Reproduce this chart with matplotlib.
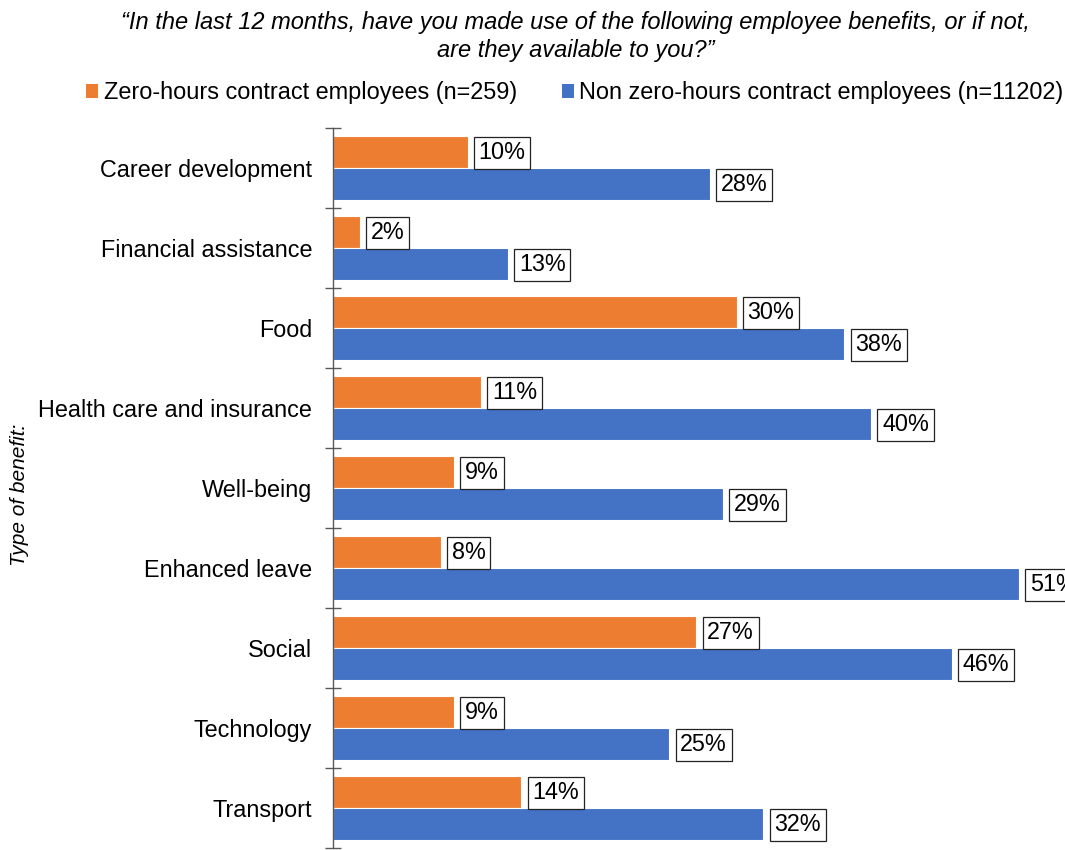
import matplotlib
matplotlib.use("Agg")
import matplotlib.pyplot as plt
import numpy as np
from matplotlib.patches import Patch

plt.rcParams['font.family'] = ['Liberation Sans', 'DejaVu Sans']

categories = ["Career development", "Financial assistance", "Food",
              "Health care and insurance", "Well-being", "Enhanced leave",
              "Social", "Technology", "Transport"]
zero_hours = [10, 2, 30, 11, 9, 8, 27, 9, 14]
non_zero_hours = [28, 13, 38, 40, 29, 51, 46, 25, 32]
series_names = ["Zero-hours contract employees (n=259)",
                "Non zero-hours contract employees (n=11202)"]
colors = ["#ED7D31", "#4472C4"]

W, H = 1065, 850
fig = plt.figure(figsize=(W / 100, H / 100), dpi=100)
left = 333 / W
top = 1 - 128 / H
bottom = 2 / H
xmax = 55
width_px = xmax * 13.45
ax = fig.add_axes([left, bottom, width_px / W, top - bottom])

y = np.arange(len(categories))
bh = 0.4
ax.barh(y - bh / 2, zero_hours, height=bh, color=colors[0], edgecolor='white', linewidth=0.8)
ax.barh(y + bh / 2, non_zero_hours, height=bh, color=colors[1], edgecolor='white', linewidth=0.8)

lab_fs = 16.8
bbox = dict(boxstyle='square,pad=0.2', facecolor='white', edgecolor='#222222', linewidth=0.9)
for i, (a, b) in enumerate(zip(zero_hours, non_zero_hours)):
    ax.annotate(f"{a}%", (a, i - bh / 2), xytext=(8, -0.5), textcoords='offset points',
                va='center', ha='left', fontsize=lab_fs, bbox=bbox, annotation_clip=False)
    ax.annotate(f"{b}%", (b, i + bh / 2), xytext=(8, -0.5), textcoords='offset points',
                va='center', ha='left', fontsize=lab_fs, bbox=bbox, annotation_clip=False)

ax.set_xlim(0, xmax)
ax.set_ylim(len(categories) - 0.5, -0.5)
ax.set_yticks(y)
ax.set_yticklabels(categories, fontsize=16.8)
ax.tick_params(axis='y', which='major', length=0, pad=15)
ax.set_yticks(np.arange(-0.5, len(categories) + 0.5, 1), minor=True)
ax.tick_params(axis='y', which='minor', length=11, direction='inout', width=1, color='#595959')
ax.set_xticks([])
for s in ['top', 'right', 'bottom']:
    ax.spines[s].set_visible(False)
ax.spines['left'].set_color('#595959')
ax.spines['left'].set_linewidth(1)

fig.text(20 / W, 1 - 495 / H, "Type of benefit:", rotation=90, style='italic',
         fontsize=15, ha='center', va='center')

fig.text(576 / W, 1 - 22 / H,
         "\u201cIn the last 12 months, have you made use of the following employee benefits, or if not,",
         style='italic', fontsize=17, ha='center', va='center')
fig.text(576 / W, 1 - 50 / H, "are they available to you?\u201d",
         style='italic', fontsize=17, ha='center', va='center')

handles = [Patch(facecolor=colors[0]), Patch(facecolor=colors[1])]
fig.legend(handles, series_names, loc='center', bbox_to_anchor=(575 / W, 1 - 93 / H),
           ncol=2, frameon=False, fontsize=16.9, handlelength=0.5, handleheight=0.5,
           handletextpad=0.25, columnspacing=1.9, borderpad=0)

fig.savefig("out.png", dpi=100)
